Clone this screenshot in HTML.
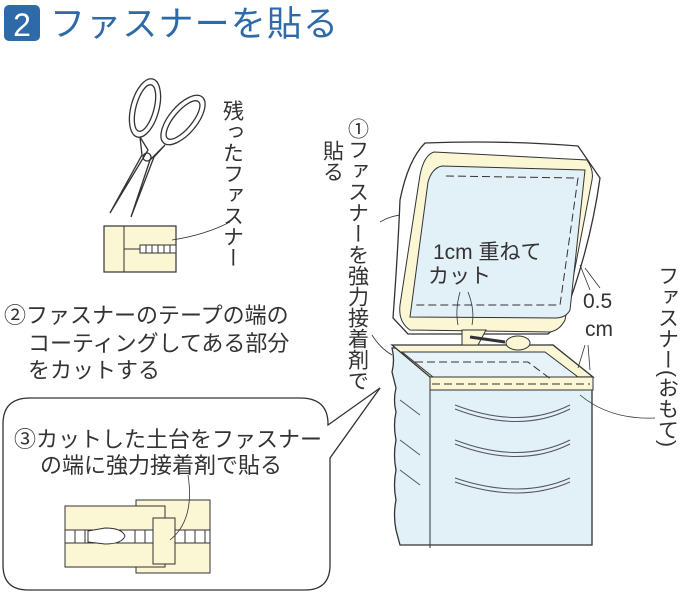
<!DOCTYPE html>
<html><head><meta charset="utf-8"><style>
body{margin:0;background:#fff;}
svg{display:block;}
text{font-family:"Liberation Sans","Noto Sans CJK JP",sans-serif;fill:#333;}
.v{writing-mode:vertical-rl;glyph-orientation-vertical:0;}
</style></head><body>
<svg width="680" height="593" viewBox="0 0 680 593" xmlns="http://www.w3.org/2000/svg">
<rect x="4" y="5" width="36" height="36" rx="5" fill="#2f6aa8"/>
<text x="22" y="36" font-size="32" text-anchor="middle" style="fill:#fff">2</text>
<text x="50" y="36" font-size="35" style="fill:#2f6aa8" textLength="288">ファスナーを貼る</text>

<!-- scissors -->
<g fill="none" stroke="#333" stroke-width="1.3">
<ellipse cx="145" cy="108" rx="14" ry="30" transform="rotate(15 145 108)"/>
<ellipse cx="145" cy="108" rx="9" ry="24" transform="rotate(15 145 108)"/>
<ellipse cx="183" cy="120" rx="14" ry="30" transform="rotate(40 183 120)"/>
<ellipse cx="183" cy="120" rx="9" ry="24" transform="rotate(40 183 120)"/>
<path d="M140 137 L148 150 L110 213 L142 155 Z M165 145 L154 157 L131 217 L150 160 Z"/>
<circle cx="147" cy="157" r="4"/>
</g>
<rect x="104" y="226" width="72" height="46" fill="#fbf6d4" stroke="#333" stroke-width="1.2"/>
<line x1="124" y1="226" x2="124" y2="272" stroke="#333"/>
<line x1="124" y1="249" x2="140" y2="249" stroke="#333"/>
<rect x="140" y="245" width="36" height="8" fill="#fff" stroke="#333"/>
<path d="M146 245v8M152 245v8M158 245v8M164 245v8M170 245v8" stroke="#333"/>
<path d="M172 240 Q205 235 230 222" fill="none" stroke="#333" stroke-width="0.8"/>
<text x="232" y="100" font-size="21" class="v">残ったファスナー</text>

<text x="4" y="323" font-size="22">②ファスナーのテープの端の</text>
<text x="28" y="351" font-size="22">コーティングしてある部分</text>
<text x="28" y="378" font-size="22">をカットする</text>

<path d="M30 398 H300 Q328 398 328 424 V425 L380 388 L330 458 V565 Q330 590 305 590 H28 Q3 590 3 565 V424 Q3 398 30 398 Z" fill="#fff" stroke="#333" stroke-width="1.3"/>
<text x="14" y="447" font-size="22">③カットした土台をファスナー</text>
<text x="40" y="473" font-size="22">の端に強力接着剤で貼る</text>
<rect x="65" y="506" width="145" height="62" fill="#fbf6d4"/>
<rect x="136" y="500" width="74" height="73" fill="#fbf6d4" stroke="#333"/>
<rect x="65" y="506" width="100" height="61" fill="#fbf6d4" stroke="#333"/>
<rect x="65" y="530" width="145" height="13" fill="#fff" stroke="#333"/>
<path d="M75 530v13M85 530v13M135 530v13M145 530v13M185 530v13M195 530v13M205 530v13" stroke="#333"/>
<path d="M88 531 L105 528 Q122 528 125 536 Q122 544 105 544 L88 542 Z" fill="#fff" stroke="#333"/>
<rect x="153" y="518" width="22" height="46" fill="#fbf6d4" stroke="#333"/>
<path d="M170 540 Q195 520 188 475" fill="none" stroke="#333" stroke-width="0.8"/>

<text x="357" y="118" font-size="21" class="v">①ファスナーを強力接着剤で</text>
<text x="332" y="140" font-size="21" class="v">貼る</text>
<path d="M423 218 Q400 210 380 222" fill="none" stroke="#333" stroke-width="0.8"/>
<path d="M392 355 Q380 348 372 335" fill="none" stroke="#333" stroke-width="0.8"/>

<!-- box body -->
<path d="M392 348 Q395 360 392 372 L396 388 Q393 400 396 412 Q393 425 396 440 Q393 455 396 470 Q393 485 396 500 Q393 515 396 530 L400 545 H592 V377 L553 345 Z" fill="#e2f0f8" stroke="#333" stroke-width="1.3"/>
<path d="M430 377 V548" stroke="#333"/>
<path d="M392 345 L553 345 L593 377 L430 377 Z" fill="#fbf6d4" stroke="#333" stroke-width="1.3"/>
<path d="M402 352 L545 352 L578 377 L433 377 Z" fill="#e8f3f9" stroke="#333"/>
<rect x="430" y="377" width="163" height="13" fill="#fbf6d4" stroke="#333"/>
<path d="M432 384 H590" stroke="#333" stroke-dasharray="8 4"/>
<path d="M415 362 H528 L552 380" fill="none" stroke="#333" stroke-dasharray="8 4"/>
<g fill="none" stroke="#556" stroke-width="1">
<path d="M455 405 Q520 430 570 405"/><path d="M455 409 Q520 434 570 409"/>
<path d="M455 440 Q520 465 570 440"/><path d="M455 444 Q520 469 570 444"/>
<path d="M455 478 Q520 500 570 478"/><path d="M455 482 Q520 504 570 482"/>
<path d="M400 400 L420 415M400 440 L420 455M400 470 L420 485"/>
</g>
<!-- lid -->
<path d="M425 143 Q500 140 578 146 L600 178 Q590 250 562 322 L548 334 L470 334 H408 L393 318 Q398 250 400 200 Q408 160 425 143 Z" fill="#fff" stroke="#333" stroke-width="1.3"/>
<path d="M434 152 L587 160 Q594 170 592 180 L565 320 Q560 330 550 332 L410 330 Q398 322 400 305 L420 175 Q424 155 434 152 Z" fill="#fbf6d4" stroke="#333"/>
<path d="M442 166 L585 170 L570 310 Q566 318 555 318 L410 317 L428 182 Q432 168 442 166 Z" fill="#e2f0f8" stroke="#333"/>
<path d="M446 176 L578 178 L560 305 L414 305" fill="none" stroke="#333" stroke-dasharray="8 4"/>
<path d="M462 330 H486 L478 345 H462 Z" fill="#fbf6d4" stroke="#333"/>
<path d="M470 337 L505 342" stroke="#333" stroke-width="3"/>
<ellipse cx="518" cy="343" rx="12" ry="7" fill="#fbf6d4" stroke="#333"/>
<text x="433" y="259" font-size="21">1cm 重ねて</text>
<text x="428" y="283" font-size="21">カット</text>
<path d="M460 292 Q455 310 458 325 M468 292 Q475 310 472 325" fill="none" stroke="#333" stroke-width="0.8"/>
<text x="583" y="308" font-size="21">0.5</text>
<text x="585" y="336" font-size="21">cm</text>
<path d="M585 268 L600 288 M590 290 L580 265" fill="none" stroke="#333" stroke-width="0.8"/>
<path d="M585 345 L578 368 M588 345 L590 370" fill="none" stroke="#333" stroke-width="0.8"/>
<path d="M580 395 Q610 420 655 418" fill="none" stroke="#333" stroke-width="0.8"/>
<text x="667" y="265" font-size="21" class="v">ファスナー(おもて)</text>
</svg>
</body></html>
